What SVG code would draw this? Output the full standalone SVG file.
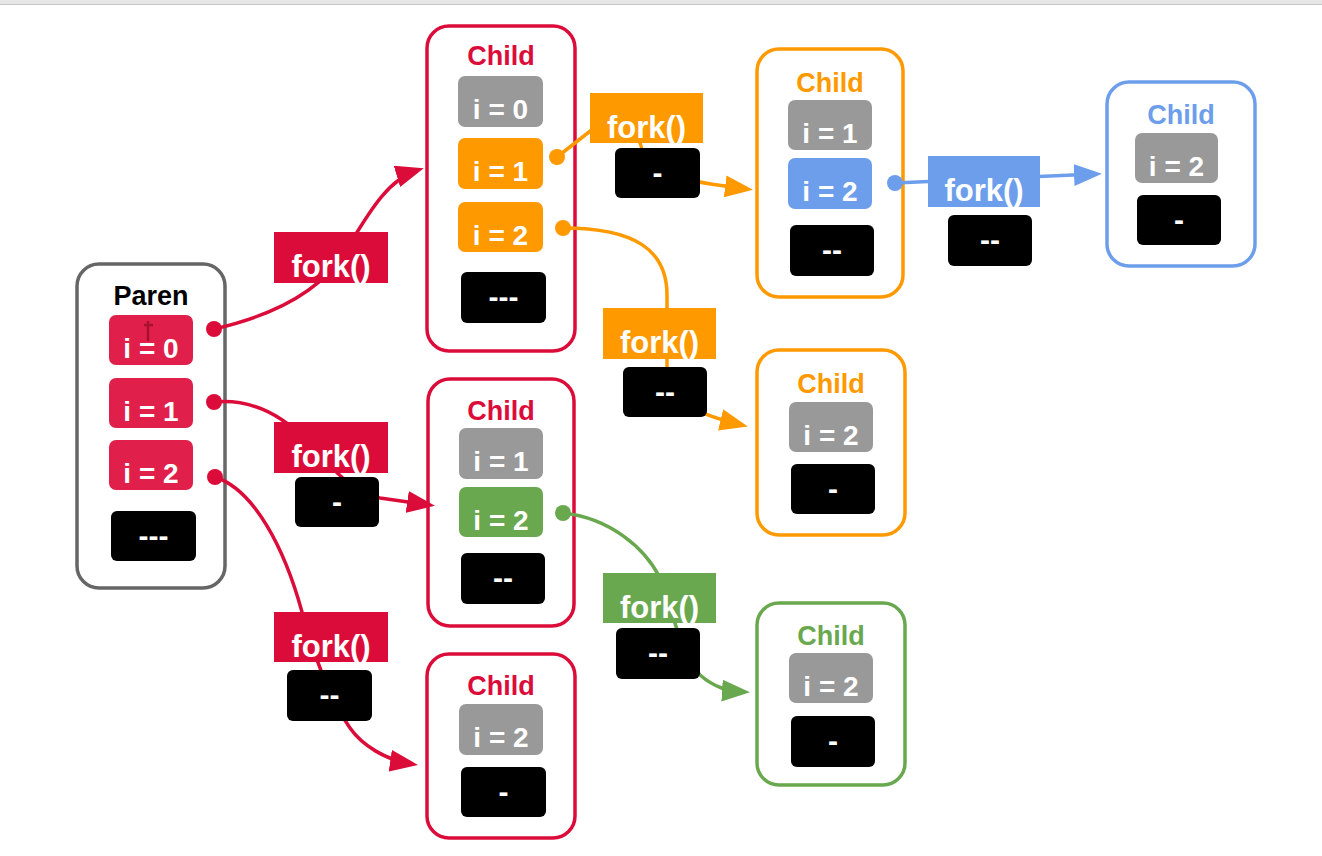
<svg xmlns="http://www.w3.org/2000/svg" width="1322" height="856" viewBox="0 0 1322 856">
<style>
.frame{fill:#fff;stroke-width:3.5}
.title{font-family:"Liberation Sans",Arial,sans-serif;font-weight:bold;font-size:27px;text-anchor:middle}
.it{font-family:"Liberation Sans",Arial,sans-serif;font-weight:bold;font-size:28px;fill:#fff;text-anchor:middle}
.blk{fill:#000}
.dash{font-family:"Liberation Sans",Arial,sans-serif;font-weight:bold;font-size:30px;fill:#fff;text-anchor:middle}
.fk{font-family:"Liberation Sans",Arial,sans-serif;font-weight:bold;font-size:31px;fill:#fff;text-anchor:middle}
.gray{fill:#999}
.ln{fill:none;stroke-width:3.5}
</style>
<defs>
<marker id="ar" viewBox="0 0 28 22" markerWidth="28" markerHeight="22" refX="22" refY="11" orient="auto" markerUnits="userSpaceOnUse"><path d="M0,0 L28,11 L0,22 z" fill="#dc0c3a"/></marker>
<marker id="ao" viewBox="0 0 28 22" markerWidth="28" markerHeight="22" refX="22" refY="11" orient="auto" markerUnits="userSpaceOnUse"><path d="M0,0 L28,11 L0,22 z" fill="#ff9900"/></marker>
<marker id="ab" viewBox="0 0 28 22" markerWidth="28" markerHeight="22" refX="22" refY="11" orient="auto" markerUnits="userSpaceOnUse"><path d="M0,0 L28,11 L0,22 z" fill="#6d9eeb"/></marker>
<marker id="ag" viewBox="0 0 28 22" markerWidth="28" markerHeight="22" refX="22" refY="11" orient="auto" markerUnits="userSpaceOnUse"><path d="M0,0 L28,11 L0,22 z" fill="#6aa84f"/></marker>
</defs>
<rect x="0" y="0" width="1322" height="856" fill="#fff"/>
<rect x="0" y="0" width="1322" height="4" fill="#e6e6e6"/>
<line x1="0" y1="4.5" x2="1322" y2="4.5" stroke="#c6c6c6" stroke-width="1"/>

<g id="parent">
<rect class="frame" x="77" y="264" width="148" height="324" rx="22" stroke="#666"/>
<text class="title" x="151" y="305" fill="#000">Paren</text>
<rect x="109" y="315" width="84" height="50" rx="7" fill="#e0204a"/>
<text class="it" x="151" y="358">i = 0</text>
<path d="M148,321 L148,341 M144,325 L153,325" stroke="#a8102f" stroke-width="2.5" fill="none"/>
<rect x="109" y="378" width="84" height="50" rx="7" fill="#e0204a"/>
<text class="it" x="151" y="421">i = 1</text>
<rect x="109" y="440" width="84" height="50" rx="7" fill="#e0204a"/>
<text class="it" x="151" y="483">i = 2</text>
<rect class="blk" x="111" y="511" width="85" height="50" rx="6"/>
<text class="dash" x="153.5" y="546">---</text>
</g>

<g id="child-a">
<rect class="frame" x="427" y="26" width="148" height="325" rx="22" stroke="#dc0c3a"/>
<text class="title" x="501" y="65" fill="#dc0c3a">Child</text>
<rect class="gray" x="458" y="76" width="85" height="51" rx="7"/>
<text class="it" x="500.5" y="119">i = 0</text>
<rect x="458" y="138" width="85" height="51" rx="7" fill="#ff9900"/>
<text class="it" x="500.5" y="181">i = 1</text>
<rect x="458" y="202" width="85" height="50" rx="7" fill="#ff9900"/>
<text class="it" x="500.5" y="245">i = 2</text>
<rect class="blk" x="461" y="272" width="85" height="51" rx="6"/>
<text class="dash" x="503.5" y="307">---</text>
</g>

<g id="child-b">
<rect class="frame" x="757" y="49" width="146" height="248" rx="22" stroke="#ff9900"/>
<text class="title" x="830" y="92" fill="#ff9900">Child</text>
<rect class="gray" x="788" y="100" width="84" height="50" rx="7"/>
<text class="it" x="830" y="143">i = 1</text>
<rect x="788" y="158" width="84" height="51" rx="7" fill="#6d9eeb"/>
<text class="it" x="830" y="201">i = 2</text>
<rect class="blk" x="790" y="225" width="84" height="51" rx="6"/>
<text class="dash" x="832" y="260">--</text>
</g>

<g id="child-c">
<rect class="frame" x="1107" y="82" width="148" height="184" rx="22" stroke="#6d9eeb"/>
<text class="title" x="1181" y="124" fill="#6d9eeb">Child</text>
<rect class="gray" x="1135" y="133" width="83" height="50" rx="7"/>
<text class="it" x="1176.5" y="176">i = 2</text>
<rect class="blk" x="1137" y="195" width="84" height="50" rx="6"/>
<text class="dash" x="1179" y="230">-</text>
</g>

<g id="child-d">
<rect class="frame" x="757" y="350" width="148" height="185" rx="22" stroke="#ff9900"/>
<text class="title" x="831" y="393" fill="#ff9900">Child</text>
<rect class="gray" x="789" y="402" width="84" height="50" rx="7"/>
<text class="it" x="831" y="445">i = 2</text>
<rect class="blk" x="791" y="464" width="84" height="50" rx="6"/>
<text class="dash" x="833" y="499">-</text>
</g>

<g id="child-e">
<rect class="frame" x="428" y="379" width="146" height="247" rx="22" stroke="#dc0c3a"/>
<text class="title" x="501" y="420" fill="#dc0c3a">Child</text>
<rect class="gray" x="459" y="428" width="84" height="51" rx="7"/>
<text class="it" x="501" y="471">i = 1</text>
<rect x="459" y="487" width="84" height="50" rx="7" fill="#6aa84f"/>
<text class="it" x="501" y="530">i = 2</text>
<rect class="blk" x="461" y="553" width="84" height="51" rx="6"/>
<text class="dash" x="503" y="588">--</text>
</g>

<g id="child-f">
<rect class="frame" x="427" y="654" width="148" height="184" rx="22" stroke="#dc0c3a"/>
<text class="title" x="501" y="695" fill="#dc0c3a">Child</text>
<rect class="gray" x="459" y="704" width="84" height="51" rx="7"/>
<text class="it" x="501" y="747">i = 2</text>
<rect class="blk" x="461" y="767" width="85" height="50" rx="6"/>
<text class="dash" x="503.5" y="802">-</text>
</g>

<g id="child-g">
<rect class="frame" x="757" y="603" width="148" height="182" rx="22" stroke="#6aa84f"/>
<text class="title" x="831" y="645" fill="#6aa84f">Child</text>
<rect class="gray" x="789" y="653" width="84" height="50" rx="7"/>
<text class="it" x="831" y="696">i = 2</text>
<rect class="blk" x="791" y="716" width="84" height="51" rx="6"/>
<text class="dash" x="833" y="751">-</text>
</g>

<g id="connectors">
<path class="ln" stroke="#dc0c3a" marker-end="url(#ar)" d="M214,329 C275,315 320,290 343,255 C365,220 385,180 418,170"/>
<path class="ln" stroke="#dc0c3a" marker-end="url(#ar)" d="M214,402 C255,398 285,418 308,442 C332,468 352,493 380,498 L429,505"/>
<path class="ln" stroke="#dc0c3a" marker-end="url(#ar)" d="M215,477 C255,490 285,550 302,612 C312,650 330,700 350,728 C362,745 385,760 412,764"/>
<path class="ln" stroke="#ff9900" marker-end="url(#ao)" d="M557,157 L598,125 C620,110 640,135 642,150 C645,175 690,182 747,189"/>
<path class="ln" stroke="#ff9900" marker-end="url(#ao)" d="M563,228 C635,228 667,250 667,295 L667,380 C667,400 700,415 742,425"/>
<path class="ln" stroke="#6d9eeb" marker-end="url(#ab)" d="M895,183 L1096,174"/>
<path class="ln" stroke="#6aa84f" marker-end="url(#ag)" d="M563,513 C610,518 645,548 660,578 C672,605 678,650 700,675 C715,688 728,691 744,692"/>
<circle cx="214" cy="329" r="8" fill="#dc0c3a"/>
<circle cx="214" cy="402" r="8" fill="#dc0c3a"/>
<circle cx="215" cy="477" r="8" fill="#dc0c3a"/>
<circle cx="557" cy="157" r="8" fill="#ff9900"/>
<circle cx="563" cy="228" r="8" fill="#ff9900"/>
<circle cx="895" cy="183" r="8" fill="#6d9eeb"/>
<circle cx="563" cy="513" r="8" fill="#6aa84f"/>
</g>

<g id="fork-1">
<rect x="274" y="232" width="114" height="51" fill="#dc0c3a"/>
<text class="fk" x="331" y="277">fork()</text>
</g>
<g id="fork-2">
<rect x="274" y="422" width="114" height="51" fill="#dc0c3a"/>
<text class="fk" x="331" y="467">fork()</text>
<rect class="blk" x="295" y="477" width="84" height="50" rx="6"/>
<text class="dash" x="337" y="512">-</text>
</g>
<g id="fork-3">
<rect x="274" y="612" width="114" height="50" fill="#dc0c3a"/>
<text class="fk" x="331" y="657">fork()</text>
<rect class="blk" x="287" y="670" width="85" height="51" rx="6"/>
<text class="dash" x="329.5" y="705">--</text>
</g>
<g id="fork-4">
<rect x="590" y="93" width="113" height="50" fill="#ff9900"/>
<text class="fk" x="646.5" y="138">fork()</text>
<rect class="blk" x="615" y="148" width="85" height="50" rx="6"/>
<text class="dash" x="657.5" y="183">-</text>
</g>
<g id="fork-5">
<rect x="603" y="308" width="113" height="51" fill="#ff9900"/>
<text class="fk" x="659.5" y="353">fork()</text>
<rect class="blk" x="623" y="367" width="84" height="50" rx="6"/>
<text class="dash" x="665" y="402">--</text>
</g>
<g id="fork-6">
<rect x="928" y="156" width="112" height="51" fill="#6d9eeb"/>
<text class="fk" x="984" y="201">fork()</text>
<rect class="blk" x="948" y="215" width="84" height="51" rx="6"/>
<text class="dash" x="990" y="250">--</text>
</g>
<g id="fork-7">
<rect x="603" y="573" width="113" height="50" fill="#6aa84f"/>
<text class="fk" x="659.5" y="618">fork()</text>
<rect class="blk" x="616" y="628" width="84" height="51" rx="6"/>
<text class="dash" x="658" y="663">--</text>
</g>
</svg>
